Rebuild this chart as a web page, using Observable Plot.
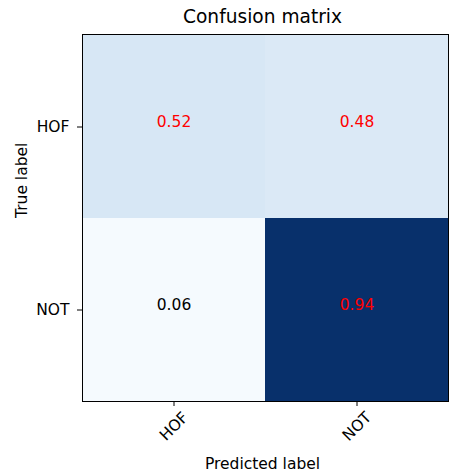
<!DOCTYPE html>
<html>
<head>
<meta charset="utf-8">
<script src="https://cdn.jsdelivr.net/npm/d3@7"></script>
<script src="https://cdn.jsdelivr.net/npm/@observablehq/plot@0.6"></script>
<style>
  html, body { margin: 0; padding: 0; background: #fff; }
  #chart svg { display: block; }
</style>
</head>
<body>
<div id="chart"></div>
<script>
// Class labels (rows = true label, columns = predicted label)
const labels = ["HOF", "NOT"];
const trueLabel = ["HOF", "HOF", "NOT", "NOT"];
const predLabel = ["HOF", "NOT", "HOF", "NOT"];
// Normalised rates printed in each cell
const rates = [0.52, 0.48, 0.06, 0.94];
// Colour intensity of each cell (0..1 on the Blues ramp)
const shade = [0.16, 0.14, 0.01, 1.0];
// Matplotlib "Blues" colour ramp stops
const bluesStops = ["#f7fbff", "#deebf7", "#c6dbef", "#9ecae1", "#6baed6", "#4292c6", "#2171b5", "#08519c", "#08306b"];

const titleText = "Confusion matrix";
const xTitle = "Predicted label";
const yTitle = "True label";

const cells = rates.map((v, i) => ({ t: trueLabel[i], p: predLabel[i], v, s: shade[i] }));
const maxRate = d3.max(rates);
const fmt = d3.format(".2f");

const chart = Plot.plot({
  width: 456,
  height: 474,
  marginLeft: 82,
  marginRight: 8,
  marginTop: 34,
  marginBottom: 73,
  style: { fontFamily: "'DejaVu Sans', sans-serif", fontSize: "15.5px", color: "black", background: "white" },
  x: { domain: labels, padding: 0, label: null },
  y: { domain: labels, padding: 0, label: null },
  color: {
    type: "linear",
    domain: d3.range(bluesStops.length).map(i => i / (bluesStops.length - 1)),
    range: bluesStops
  },
  marks: [
    Plot.cell(cells, { x: "p", y: "t", fill: "s", inset: 0 }),
    Plot.text(cells, {
      x: "p", y: "t", text: d => fmt(d.v),
      fill: d => d.v > maxRate / 2 ? "red" : "black",
      fontSize: 15.5, dy: -5
    }),
    Plot.frame({ stroke: "black", strokeWidth: 1 }),
    Plot.axisY({ anchor: "left", tickSize: 5, tickPadding: 8, fontSize: 15.5, label: null }),
    Plot.axisX({
      anchor: "bottom", tickSize: 5, tickPadding: 20, tickRotate: -45,
      textAnchor: "middle", lineAnchor: "middle", fontSize: 15.5, label: null
    }),
    Plot.text([titleText], { frameAnchor: "top", dy: -11.5, dx: -3, lineAnchor: "bottom", fontSize: 18.6 }),
    Plot.text([xTitle], { frameAnchor: "bottom", dy: 67, lineAnchor: "bottom", fontSize: 15.5, dx: -3 }),
    Plot.text([yTitle], { frameAnchor: "left", dx: -56, rotate: -90, lineAnchor: "bottom", fontSize: 15.5 })
  ]
});
document.getElementById("chart").appendChild(chart);
</script>
</body>
</html>
